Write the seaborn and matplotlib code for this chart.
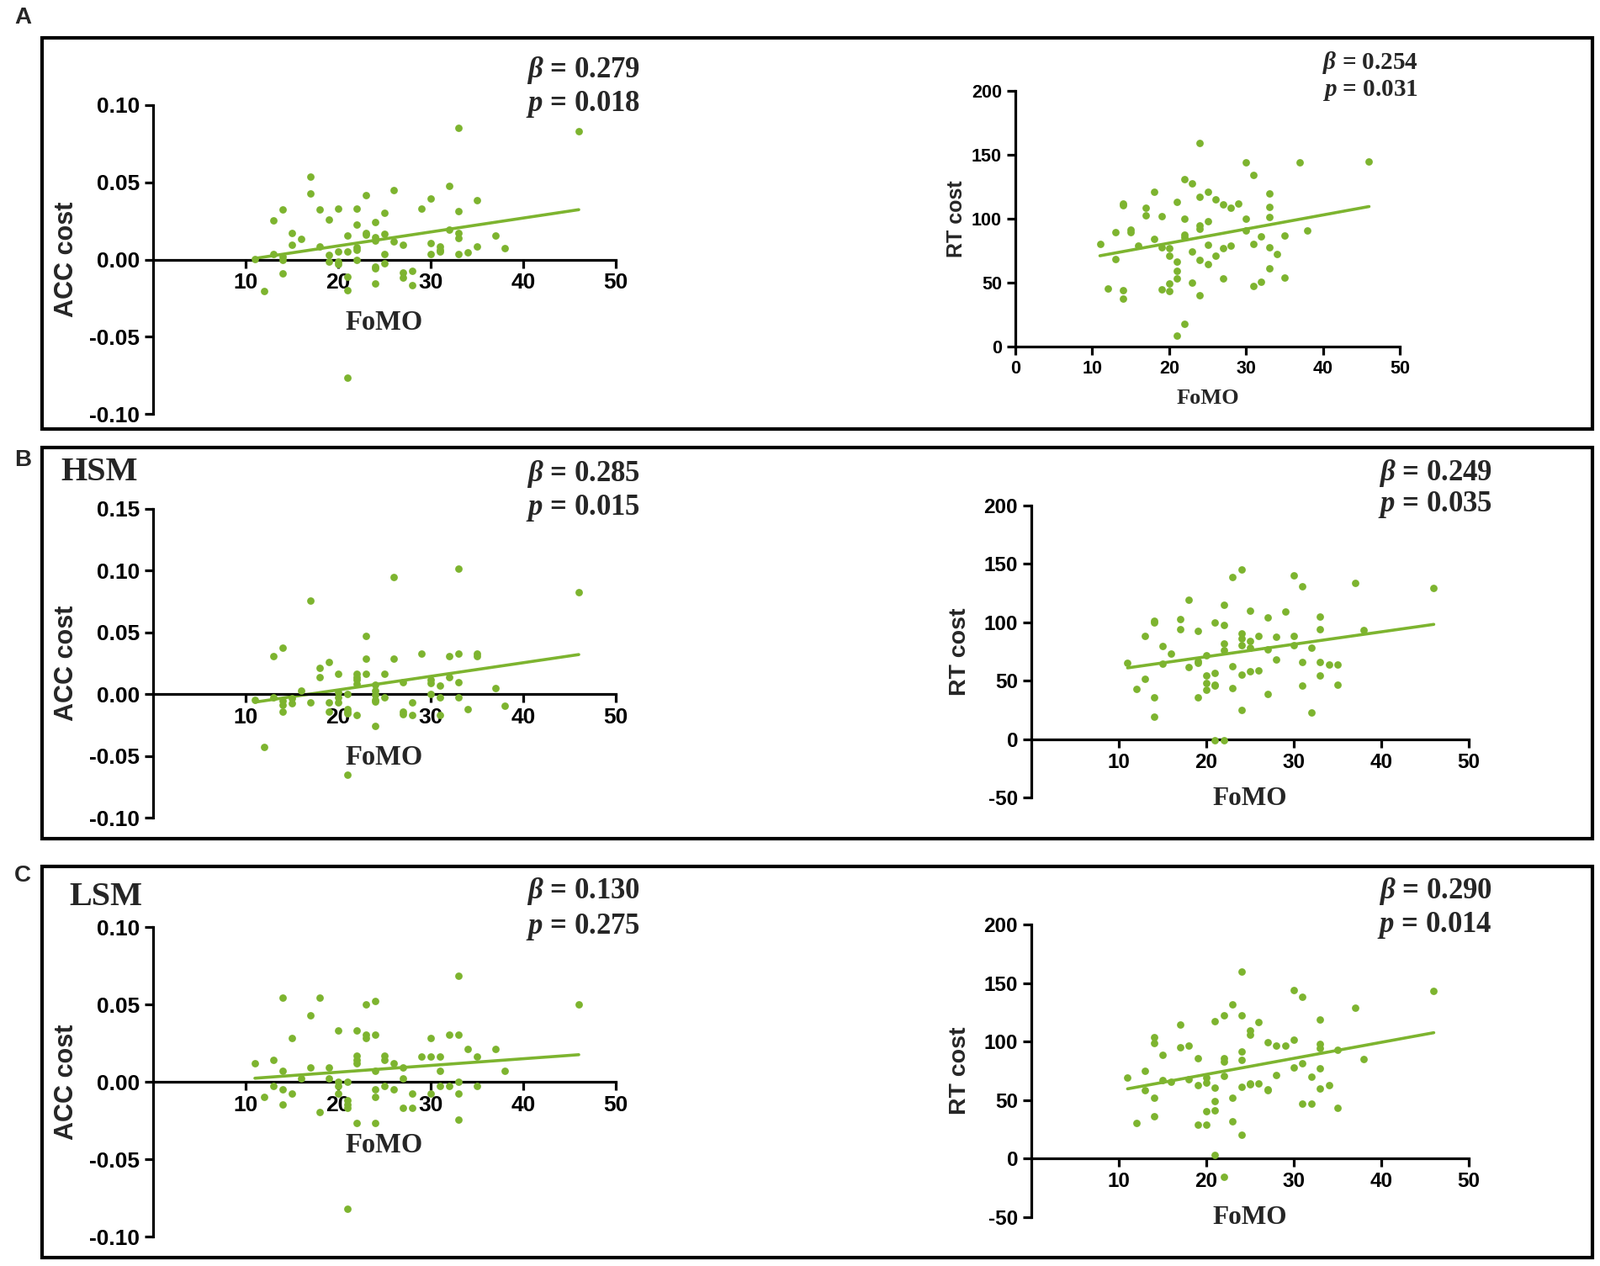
import matplotlib
matplotlib.use('Agg')
import matplotlib.pyplot as plt
import seaborn as sns
import pandas as pd
from matplotlib.patches import Rectangle
from matplotlib.ticker import FormatStrFormatter

# ---- data ----
# A: all participants, ACC cost
fomo_acc_a = [33, 46, 17, 17, 32, 26, 23, 35, 30, 14, 18, 20, 22, 29, 33, 25, 13, 19, 24, 22,
              15, 16, 21, 23, 23, 24, 24, 25, 26, 33, 33, 32, 37, 15, 18, 27, 30, 31, 31, 31,
              35, 38, 20, 21, 22, 22, 30, 33, 34, 11, 13, 14, 14, 19, 25, 19, 20, 20, 22, 25,
              24, 24, 14, 21, 27, 27, 28, 24, 28, 12, 21, 21]
acc_a = [0.0855, 0.083, 0.0536, 0.0427, 0.0475, 0.0449, 0.0418, 0.0385, 0.0393, 0.0322,
         0.0322, 0.0331, 0.0331, 0.0331, 0.0315, 0.0305, 0.0253, 0.026, 0.0244, 0.0227,
         0.0173, 0.0133, 0.0156, 0.0173, 0.016, 0.0142, 0.0124, 0.0165, 0.0116, 0.0169,
         0.0138, 0.0196, 0.0156, 0.0093, 0.0085, 0.0093, 0.0107, 0.0085, 0.0065, 0.0051,
         0.0085, 0.0071, 0.0053, 0.0053, 0.0078, 0.0065, 0.0038, 0.0038, 0.0045, 0.0005,
         0.0033, 0.0018, 0.0, 0.0029, 0.0033, -0.0016, -0.0016, -0.003, -0.0004, -0.0025,
         -0.0044, -0.0055, -0.0089, -0.0113, -0.0087, -0.0115, -0.0073, -0.0153, -0.0167,
         -0.0207, -0.02, -0.0764]

# A: all participants, RT cost
fomo_rt_a = [24, 30, 37, 46, 31, 22, 23, 18, 25, 33, 24, 26, 14, 14, 21, 27, 29, 17, 28, 33,
             17, 19, 22, 30, 33, 25, 24, 24, 15, 15, 13, 30, 38, 22, 22, 18, 32, 35, 11, 16,
             25, 28, 31, 19, 20, 27, 33, 23, 34, 13, 20, 26, 21, 24, 25, 21, 33, 21, 27, 35,
             23, 20, 32, 31, 12, 19, 14, 20, 14, 24, 22, 21]
rt_a = [158.9, 144, 144, 145, 134.5, 130.8, 127.5, 121, 121, 120, 117, 115, 112, 110.5, 113,
        111, 111.6, 108.6, 108.6, 109, 102.6, 102, 100, 100, 101, 97.8, 94.5, 92.3, 91.6,
        89.2, 89.4, 90.8, 90.5, 87.7, 85.5, 84.2, 86.4, 86.8, 80.2, 78.9, 79.3, 78.9, 80.2,
        77.4, 76.9, 76.7, 77.4, 74.5, 72.5, 68.4, 70.8, 70.8, 66.6, 67.5, 64.8, 58.9, 61.3,
        53.4, 53.2, 54, 49.9, 49.2, 50.5, 47.3, 45.7, 44.8, 44, 43.7, 37.8, 40.4, 17.6, 8.8]

# B: HSM group, ACC cost
fomo_acc_b = [33, 26, 46, 17, 23, 14, 13, 29, 33, 35, 35, 32, 19, 23, 26, 18, 18, 20, 22, 23,
              25, 22, 22, 22, 32, 30, 30, 33, 27, 24, 31, 37, 16, 20, 21, 30, 24, 24, 11, 13,
              14, 15, 15, 20, 24, 24, 25, 31, 33, 14, 17, 19, 20, 28, 38, 14, 19, 21, 21, 21,
              22, 27, 27, 28, 31, 34, 24, 12, 21]
acc_b = [0.1018, 0.0948, 0.0826, 0.0758, 0.0473, 0.0378, 0.0308, 0.033, 0.033, 0.033, 0.0308,
         0.0308, 0.026, 0.0285, 0.0285, 0.0213, 0.014, 0.0165, 0.0165, 0.0165, 0.0165, 0.0136,
         0.0115, 0.0084, 0.014, 0.0118, 0.009, 0.0097, 0.0097, 0.0077, 0.007, 0.0048, 0.0027,
         0.0016, 0.0, 0.0, 0.003, -0.0007, -0.0045, -0.0023, -0.0052, -0.0036, -0.0075,
         -0.0025, -0.0045, -0.0059, -0.0023, -0.0025, -0.0025, -0.0088, -0.007, -0.007, -0.007,
         -0.007, -0.0093, -0.0143, -0.0143, -0.012, -0.0143, -0.0156, -0.0167, -0.0143,
         -0.0165, -0.0167, -0.0167, -0.012, -0.026, -0.0425, -0.065]

# B: HSM group, RT cost
fomo_rt_b = [24, 23, 30, 31, 37, 46, 18, 22, 25, 29, 27, 33, 14, 14, 17, 21, 22, 17, 19, 33,
             38, 24, 24, 13, 26, 28, 30, 25, 15, 22, 24, 30, 25, 32, 22, 27, 16, 20, 11, 15,
             19, 19, 28, 31, 33, 34, 35, 18, 23, 25, 26, 21, 20, 24, 33, 13, 20, 21, 21, 31,
             35, 12, 23, 20, 27, 14, 19, 24, 32, 14, 21, 22]
rt_b = [144.9, 138.7, 140.3, 131, 134, 129.4, 119, 115, 109.8, 109.3, 104.5, 105, 101.4, 99.5,
        102.6, 99.5, 97.4, 94.3, 92.4, 93.8, 93.3, 90.2, 85.9, 88.3, 88.3, 87.8, 88.3, 84, 80,
        82.1, 80.2, 80.7, 78.3, 78.3, 76.4, 77.1, 73, 71.8, 65.2, 64.4, 66.8, 65.6, 68.5, 66.1,
        65.9, 63.7, 63.7, 62, 62.3, 58.2, 58.7, 56.3, 54.4, 54.9, 54.7, 51.6, 48, 46.8, 45.6,
        45.6, 46.3, 43, 43.9, 42, 38.9, 36, 35.6, 25, 22.9, 19.3, -1, -1]

# C: LSM group, ACC cost
fomo_acc_c = [33, 14, 18, 24, 23, 46, 17, 20, 22, 23, 23, 24, 15, 30, 32, 33, 34, 37, 22, 22,
              22, 25, 25, 29, 30, 31, 35, 13, 11, 26, 17, 19, 27, 14, 24, 31, 38, 16, 19, 27,
              20, 21, 33, 13, 20, 25, 31, 32, 35, 14, 24, 26, 15, 20, 28, 30, 33, 12, 24, 21,
              21, 21, 14, 27, 28, 18, 33, 22, 24, 21]
acc_c = [0.0687, 0.0545, 0.0545, 0.0521, 0.0499, 0.0499, 0.0428, 0.033, 0.033, 0.0304, 0.0282,
         0.0304, 0.0282, 0.0282, 0.0304, 0.0304, 0.0211, 0.0211, 0.0166, 0.014, 0.0118, 0.0166,
         0.014, 0.0162, 0.0162, 0.0162, 0.0162, 0.014, 0.0117, 0.0117, 0.0093, 0.0093, 0.0093,
         0.0069, 0.0069, 0.0069, 0.0069, 0.0022, 0.0022, 0.0022, 0.0, 0.0, 0.0, -0.0027,
         -0.0027, -0.0027, -0.0027, -0.0027, -0.0027, -0.0051, -0.0051, -0.0051, -0.0075,
         -0.0075, -0.0075, -0.0075, -0.0075, -0.01, -0.0097, -0.0122, -0.0148, -0.0169,
         -0.0148, -0.0171, -0.0171, -0.0195, -0.0242, -0.0266, -0.0266, -0.0821]

# C: LSM group, RT cost
fomo_rt_c = [24, 30, 46, 31, 23, 37, 22, 24, 21, 26, 33, 17, 25, 25, 14, 14, 27, 30, 33, 33,
             17, 18, 28, 29, 35, 24, 15, 19, 22, 22, 24, 38, 31, 30, 33, 13, 28, 32, 22, 11,
             20, 15, 16, 18, 20, 25, 25, 26, 19, 34, 24, 21, 13, 27, 27, 33, 35, 14, 20, 21,
             21, 23, 31, 32, 14, 12, 23, 19, 20, 24, 21, 22]
rt_c = [160, 144.1, 143.4, 138.1, 131.6, 128.8, 122.3, 122.3, 117.3, 116.5, 118.5, 114.6,
        109.8, 106.2, 103.6, 98.8, 99.5, 101.4, 98.3, 94.7, 95.4, 96.9, 96.2, 96.9, 93, 91.6,
        89, 86, 86, 82.7, 84.4, 84.9, 81.5, 78.2, 77, 75.3, 71.2, 70.3, 70.7, 69.1, 69.5,
        67.4, 65.5, 67.9, 64.7, 64.5, 63.3, 64.5, 62.8, 63.1, 61.4, 60.4, 58.5, 59.5, 58.3,
        60, 43.2, 51.8, 40.8, 41.2, 49.4, 52.3, 47.2, 46.8, 36.4, 30.7, 31.7, 28.8, 29, 20.4,
        2.9, -15.8]

stats = {
    'A_acc': ('0.279', '0.018'), 'A_rt': ('0.254', '0.031'),
    'B_acc': ('0.285', '0.015'), 'B_rt': ('0.249', '0.035'),
    'C_acc': ('0.130', '0.275'), 'C_rt': ('0.290', '0.014'),
}

# ---- style ----
sns.set_style('ticks')
plt.rcParams['font.family'] = ['Liberation Sans', 'DejaVu Sans']
plt.rcParams['mathtext.fontset'] = 'custom'
plt.rcParams['mathtext.it'] = 'Liberation Serif:italic:bold'
plt.rcParams['mathtext.rm'] = 'Liberation Serif:bold'
plt.rcParams['mathtext.bf'] = 'Liberation Serif:bold'

green = '#7db42f'
W, H = 1902, 1505
fig = plt.figure(figsize=(W / 100, H / 100), dpi=100)


def px_rect(x0, y0, x1, y1):
    # pixel box (top-left origin) -> figure fraction [left, bottom, width, height]
    return [x0 / W, 1 - y1 / H, (x1 - x0) / W, (y1 - y0) / H]


def panel(box, x, y, ylim, yticks, xticks, fmt, ylabel, ylab_x, tick_fs, lab_fs,
          fomo_fs, fomo_off, stat, stat_xy, stat_fs):
    ax = fig.add_axes(px_rect(*box))
    df = pd.DataFrame({'FoMO': x, 'cost': y})
    sns.regplot(data=df, x='FoMO', y='cost', ax=ax, ci=None, color=green,
                scatter_kws=dict(s=40, linewidths=0, alpha=1, zorder=3),
                line_kws=dict(lw=2.6, zorder=2))
    ax.set_xlim(0, 50)
    ax.set_ylim(*ylim)
    ax.set_xticks(xticks)
    ax.set_yticks(yticks)
    ax.yaxis.set_major_formatter(FormatStrFormatter(fmt))
    ax.xaxis.set_major_formatter(FormatStrFormatter('%d'))
    for s in ['top', 'right']:
        ax.spines[s].set_visible(False)
    ax.spines['left'].set_position(('data', 0))
    ax.spines['bottom'].set_position(('data', 0))
    for s in ['left', 'bottom']:
        ax.spines[s].set_linewidth(2.3)
        ax.spines[s].set_color('black')
    ax.tick_params(width=2.3, length=7.5, direction='out', labelsize=tick_fs, pad=4,
                   colors='black')
    for lab in ax.get_xticklabels() + ax.get_yticklabels():
        lab.set_fontweight('bold')
    ax.set_xlabel('')
    ax.set_ylabel(ylabel, fontsize=lab_fs, fontweight='bold')
    ax.yaxis.set_label_coords(ylab_x, 0.5)
    ax.patch.set_alpha(0)
    ax.annotate('FoMO', xy=(25, 0), xycoords='data', xytext=(0, -fomo_off),
                textcoords='offset pixels', ha='center', va='center',
                family='Liberation Serif', fontweight='bold', fontsize=fomo_fs)
    bx, by1, by2 = stat_xy
    fig.text(bx / W, 1 - by1 / H, r'$\beta$ = ' + stat[0], ha='right', va='center',
             family='Liberation Serif', fontweight='bold', fontsize=stat_fs)
    fig.text(bx / W, 1 - by2 / H, r'$p$ = ' + stat[1], ha='right', va='center',
             family='Liberation Serif', fontweight='bold', fontsize=stat_fs)
    return ax


acc_ticks_a = [-0.10, -0.05, 0.00, 0.05, 0.10]
acc_ticks_b = [-0.10, -0.05, 0.00, 0.05, 0.10, 0.15]
rt_ticks_a = [0, 50, 100, 150, 200]
rt_ticks_bc = [-50, 0, 50, 100, 150, 200]
x_ticks_no0 = [10, 20, 30, 40, 50]
x_ticks_0 = [0, 10, 20, 30, 40, 50]

# row A
panel((182, 125, 732, 492), fomo_acc_a, acc_a, (-0.10, 0.10), acc_ticks_a, x_ticks_no0,
      '%.2f', 'ACC cost', -0.16, 19, 22, 23.5, 75, stats['A_acc'], (761, 83, 124), 25)
panel((1207, 108, 1664, 412), fomo_rt_a, rt_a, (0, 200), rt_ticks_a, x_ticks_0,
      '%d', 'RT cost', -0.126, 15.5, 18, 19, 62, stats['A_rt'], (1686, 74, 107), 21)
# row B
panel((182, 605, 732, 972), fomo_acc_b, acc_b, (-0.10, 0.15), acc_ticks_b, x_ticks_no0,
      '%.2f', 'ACC cost', -0.16, 19, 22, 23.5, 75, stats['B_acc'], (761, 564, 604), 25)
panel((1226, 601, 1746, 948), fomo_rt_b, rt_b, (-50, 200), rt_ticks_bc, x_ticks_no0,
      '%d', 'RT cost', -0.138, 17.5, 20.5, 22.5, 71, stats['B_rt'], (1774, 563, 600), 25)
# row C
panel((182, 1102, 732, 1470), fomo_acc_c, acc_c, (-0.10, 0.10), acc_ticks_a, x_ticks_no0,
      '%.2f', 'ACC cost', -0.16, 19, 22, 23.5, 76, stats['C_acc'], (761, 1060, 1102), 25)
panel((1226, 1099, 1746, 1447), fomo_rt_c, rt_c, (-50, 200), rt_ticks_bc, x_ticks_no0,
      '%d', 'RT cost', -0.138, 17.5, 20.5, 22.5, 70, stats['C_rt'], (1774, 1060, 1100), 25)

# framed rows and labels
for (y0, y1) in [(45, 510), (532, 997), (1030, 1495)]:
    x0, x1 = 50, 1893
    fig.add_artist(Rectangle((x0 / W, 1 - y1 / H), (x1 - x0) / W, (y1 - y0) / H,
                             transform=fig.transFigure, fill=False, lw=3, ec='black'))
for lab, yy in [('A', 21), ('B', 547), ('C', 1041)]:
    fig.text(27 / W, 1 - yy / H, lab, ha='center', va='center', fontsize=20,
             fontweight='bold')
fig.text(72 / W, 1 - 562 / H, 'HSM', ha='left', va='center', family='Liberation Serif',
         fontweight='bold', fontsize=29)
fig.text(82 / W, 1 - 1067 / H, 'LSM', ha='left', va='center', family='Liberation Serif',
         fontweight='bold', fontsize=29)

fig.savefig('out.png', dpi=100)
